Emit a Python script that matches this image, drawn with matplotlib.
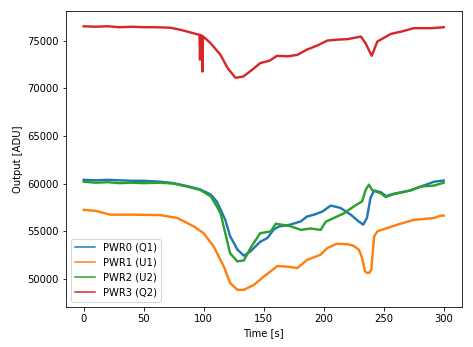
import matplotlib
matplotlib.use("Agg")
import matplotlib.pyplot as plt

# PWR0 (Q1)
t0 = [0, 10, 20, 30, 40, 50, 64, 75, 86, 97, 106, 111, 114, 118, 122, 128, 133.5, 139, 147, 153,
      158.5, 162.6, 172, 181, 186, 192, 199, 205.8, 211, 214, 222.5, 229, 233, 236, 239, 242,
      247.5, 252, 258.5, 265, 272.5, 281, 292, 300]
v0 = [60400, 60350, 60400, 60350, 60300, 60300, 60200, 60050, 59750, 59400, 58850, 58100, 57300,
      56200, 54500, 53100, 52450, 52900, 53900, 54300, 55200, 55500, 55700, 56050, 56550, 56750,
      57080, 57700, 57550, 57450, 56750, 56050, 55700, 56400, 58500, 59280, 59110, 58700, 58950,
      59100, 59300, 59700, 60200, 60330]

# PWR1 (U1)
t1 = [0, 10, 22, 40, 64, 78, 92, 100, 108.4, 116.8, 122, 128, 133.5, 142, 150, 161.3, 170, 178,
      186, 197.4, 203, 211, 220, 225, 229.4, 232, 234.5, 236, 238, 239.7, 242, 244.7, 253, 261.4,
      275, 292, 297.5, 300]
v1 = [57250, 57150, 56750, 56750, 56700, 56400, 55500, 54800, 53400, 51300, 49600, 48870, 48870,
      49400, 50250, 51350, 51300, 51150, 52000, 52550, 53250, 53700, 53650, 53480, 53060, 52200,
      50800, 50650, 50650, 51000, 54450, 55000, 55350, 55700, 56200, 56400, 56650, 56650]

# PWR2 (U2)
t2 = [0, 10, 20, 30, 40, 50, 64, 75, 86, 97, 106, 111, 114, 118, 122, 128, 133.5, 139, 147, 156,
      160, 165, 172, 181, 189, 197.5, 201.6, 205.8, 217, 225, 232, 235, 237.7, 240.5, 247.5,
      251.6, 258.5, 272.5, 281, 292, 300]
v2 = [60200, 60100, 60150, 60050, 60100, 60050, 60100, 60000, 59700, 59350, 58650, 57600, 56900,
      54800, 52700, 51850, 51950, 53250, 54800, 55000, 55800, 55700, 55550, 55150, 55300, 55150,
      56000, 56250, 56900, 57600, 58150, 59350, 59900, 59300, 59000, 58600, 58900, 59300, 59700,
      59800, 60100]

# PWR3 (Q2)
t3 = [0, 10, 20, 30, 40, 50, 60, 72, 80, 86, 92, 96.5, 96.9, 97.3, 98.5, 98.9, 99.3, 105.6, 114,
      120, 126.5, 133, 140, 147, 155, 161, 170, 178, 186, 195, 203, 212, 220, 231, 235, 240,
      244.7, 256, 265, 275, 290, 300]
v3 = [76500, 76450, 76500, 76400, 76450, 76400, 76400, 76350, 76150, 75950, 75750, 75600, 73000,
      75580, 75500, 71750, 75450, 74750, 73500, 72100, 71100, 71230, 71900, 72630, 72900, 73400,
      73350, 73500, 74050, 74500, 75000, 75100, 75150, 75420, 74700, 73400, 74900, 75700, 75950,
      76300, 76300, 76400]

labels = ["PWR0 (Q1)", "PWR1 (U1)", "PWR2 (U2)", "PWR3 (Q2)"]

fig = plt.figure(figsize=(473 / 72, 347 / 72), dpi=72)
ax = fig.add_axes([65.7 / 473, 1 - 306.7 / 347, (461.7 - 65.7) / 473, (306.7 - 11) / 347])

for t, v, lab in zip([t0, t1, t2, t3], [v0, v1, v2, v3], labels):
    ax.plot(t, v, label=lab, linewidth=2.4)

ax.set_xlim(-15, 315)
ax.set_ylim(47100, 78100)
ax.set_xlabel("Time [s]")
ax.set_ylabel("Output [ADU]")
leg = ax.legend(loc="lower left")
for line in leg.get_lines():
    line.set_linewidth(1.5)

fig.savefig("out.png", dpi=72)
